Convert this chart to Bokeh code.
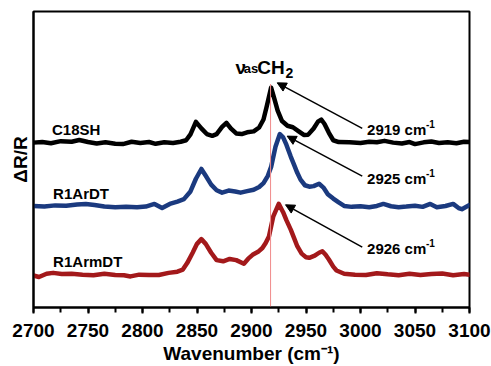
from bokeh.plotting import figure
from bokeh.models import Range1d, SingleIntervalTicker, Arrow, NormalHead, FixedTicker
from bokeh.core.properties import value
from bokeh.embed import file_html
from bokeh.resources import INLINE

FONT = "Liberation Sans"

# ---- data (y in arbitrary offset units) ----
wn_c18sh = [2700, 2708, 2716, 2725, 2735, 2742, 2750, 2758, 2766, 2775, 2782, 2790, 2798, 2806, 2812,
            2820, 2828, 2835, 2840, 2844, 2849, 2854, 2859, 2864, 2868, 2873, 2877, 2881, 2886, 2891,
            2896, 2902, 2907, 2911, 2914, 2918, 2921, 2924, 2928, 2933, 2938, 2943, 2948, 2952, 2957,
            2961, 2964, 2967, 2971, 2975, 2980, 2990, 3000, 3008, 3015, 3022, 3030, 3038, 3045, 3050,
            3058, 3065, 3072, 3080, 3088, 3095, 3100]
dr_c18sh = [55.7, 55.9, 55.5, 56.2, 56.0, 56.6, 55.9, 55.4, 55.8, 55.3, 55.2, 56.0, 55.6, 55.9, 55.3,
            55.8, 55.6, 56.0, 56.5, 58.5, 62.7, 60.5, 58.6, 58.0, 58.6, 61.0, 62.4, 60.5, 58.8, 58.6,
            59.2, 59.5, 60.8, 63.5, 68.0, 74.3, 70.5, 66.5, 63.0, 61.4, 60.9, 59.6, 58.3, 58.4, 60.5,
            62.8, 63.5, 62.0, 59.0, 56.5, 55.9, 55.8, 55.6, 56.0, 55.8, 56.3, 55.7, 55.4, 55.9, 55.2,
            55.8, 56.1, 55.6, 55.8, 55.5, 56.0, 55.9]

wn_r1ardt = [2700, 2710, 2720, 2730, 2740, 2748, 2756, 2765, 2775, 2785, 2795, 2803, 2811, 2818, 2825,
             2832, 2838, 2844, 2849, 2854, 2858, 2863, 2868, 2873, 2879, 2885, 2890, 2896, 2902, 2907,
             2911, 2915, 2918, 2922, 2926, 2929, 2932, 2936, 2939, 2942, 2945, 2949, 2953, 2957, 2962,
             2966, 2970, 2975, 2980, 2985, 2992, 3000, 3008, 3015, 3021, 3028, 3035, 3042, 3050, 3057,
             3064, 3070, 3078, 3085, 3090, 3093, 3100]
dr_r1ardt = [34.3, 34.1, 34.5, 34.4, 34.8, 35.0, 34.6, 34.1, 33.9, 34.0, 33.9, 34.1, 35.0, 33.6, 35.0,
             35.8, 36.6, 39.2, 43.5, 46.8, 44.5, 41.5, 39.6, 38.8, 39.5, 39.2, 38.8, 39.3, 39.8, 40.7,
             42.0, 44.5, 47.5, 54.3, 58.6, 57.5, 55.0, 51.0, 48.3, 45.5, 43.2, 41.3, 40.8, 41.0, 41.8,
             40.5, 38.3, 36.8, 35.5, 34.3, 34.0, 34.2, 33.9, 34.3, 35.0, 34.2, 33.9, 34.1, 34.4, 34.0,
             35.0, 33.9, 34.3, 35.0, 33.6, 33.2, 34.6]

wn_r1armdt = [2700, 2705, 2712, 2718, 2726, 2735, 2745, 2755, 2765, 2775, 2783, 2789, 2797, 2806, 2815,
              2824, 2832, 2837, 2841, 2846, 2850, 2854, 2858, 2863, 2868, 2874, 2880, 2886, 2893, 2897,
              2901, 2906, 2910, 2913, 2916, 2920, 2925, 2929, 2932, 2936, 2939, 2942, 2946, 2950, 2953,
              2958, 2962, 2965, 2968, 2971, 2975, 2978, 2985, 2995, 3005, 3015, 3025, 3035, 3045, 3055,
              3065, 3075, 3085, 3095, 3100]
dr_r1armdt = [10.8, 10.3, 11.4, 11.7, 11.3, 11.4, 11.1, 10.9, 11.4, 11.0, 10.9, 10.5, 11.1, 11.0, 11.0,
              11.7, 12.1, 12.8, 15.0, 18.5, 21.5, 23.1, 21.5, 18.5, 16.0, 15.6, 16.4, 16.0, 14.8, 16.5,
              17.8, 18.8, 20.1, 21.8, 24.0, 30.8, 35.0, 32.2, 29.5, 26.3, 23.5, 20.7, 18.2, 17.0, 16.8,
              17.5, 18.5, 19.0, 17.8, 16.2, 13.8, 12.5, 11.4, 11.1, 11.0, 11.6, 11.2, 10.9, 11.4, 11.0,
              11.3, 11.5, 10.9, 11.3, 11.1]

series_names = ["C18SH", "R1ArDT", "R1ArmDT"]
series_colors = ["#000000", "#1b3a7f", "#a3191b"]
name_x = [2717, 2718, 2718]
name_y = [60.2, 38.6, 15.6]

peak_labels = ["2919 cm", "2925 cm", "2926 cm"]
peak_label_x = [3006, 3006, 3006]
peak_label_y = [60.3, 43.7, 20.1]
arrow_x_start = [3001.6, 3001.6, 3001.6]
arrow_y_start = [60.5, 44.4, 20.4]
arrow_x_end = [2923.6, 2932.7, 2931.2]
arrow_y_end = [75.9, 57.9, 34.7]

ref_line_x = 2917.5
ref_line_top = 75.5

# ---- figure ----
p = figure(width=491, height=366, x_range=Range1d(2700, 3100), y_range=Range1d(0, 100),
           output_backend="svg", toolbar_location=None,
           min_border_left=33, min_border_right=22, min_border_top=11, min_border_bottom=58)
p.background_fill_color = "white"
p.border_fill_color = "white"
p.outline_line_color = "black"
p.outline_line_width = 2
p.grid.visible = False

# x axis
xa = p.xaxis[0]
xa.ticker = SingleIntervalTicker(interval=50, num_minor_ticks=2)
xa.axis_line_width = 2
xa.major_tick_line_width = 2
xa.minor_tick_line_width = 2
xa.major_tick_in = 0
xa.major_tick_out = 6
xa.minor_tick_in = 0
xa.minor_tick_out = 5
xa.major_label_text_font = FONT
xa.major_label_text_font_style = "bold"
xa.major_label_text_font_size = "19px"
xa.major_label_text_color = "black"
xa.major_label_standoff = 10
xa.axis_label = "Wavenumber (cm\u207b\u00b9)"
xa.axis_label_text_font = FONT
xa.axis_label_text_font_style = "bold"
xa.axis_label_text_font_size = "19px"
xa.axis_label_text_color = "black"
xa.axis_label_standoff = 3

# y axis
ya = p.yaxis[0]
ya.ticker = FixedTicker(ticks=[])
ya.axis_line_width = 2
ya.major_tick_in = 0
ya.major_tick_out = 0
ya.minor_tick_in = 0
ya.minor_tick_out = 0
ya.major_label_text_font_size = "0px"
ya.major_label_standoff = 0
ya.axis_label = "\u0394R/R"
ya.axis_label_text_font = FONT
ya.axis_label_text_font_style = "bold"
ya.axis_label_text_font_size = "19px"
ya.axis_label_text_color = "black"
ya.axis_label_standoff = 3

# spectra
for wn, dr, c in [(wn_c18sh, dr_c18sh, series_colors[0]),
                  (wn_r1ardt, dr_r1ardt, series_colors[1]),
                  (wn_r1armdt, dr_r1armdt, series_colors[2])]:
    p.line(wn, dr, line_color=c, line_width=4.5, line_join="round", line_cap="round")

# reference line at the C18SH peak
p.segment(x0=[ref_line_x], y0=[0], x1=[ref_line_x], y1=[ref_line_top],
          line_color="#f08a8a", line_width=1)

# series names
p.text(x=name_x, y=name_y, text=series_names, text_font=value(FONT), text_font_style="bold",
       text_font_size="15px", text_baseline="middle", text_align="left", text_color="black")

# peak labels with superscript -1
p.text(x=peak_label_x, y=peak_label_y, text=peak_labels, text_font=value(FONT),
       text_font_style="bold", text_font_size="15px", text_baseline="middle",
       text_align="left", text_color="black")
p.text(x=peak_label_x, y=[v + 1.6 for v in peak_label_y], text=["-1"] * 3, x_offset=59,
       text_font=value(FONT), text_font_style="bold", text_font_size="10px",
       text_baseline="middle", text_align="left", text_color="black")

# arrows
for xs, ys, xe, ye in zip(arrow_x_start, arrow_y_start, arrow_x_end, arrow_y_end):
    p.add_layout(Arrow(end=NormalHead(size=9, fill_color="black", line_color="black", line_width=1),
                       x_start=xs, y_start=ys, x_end=xe, y_end=ye,
                       line_color="black", line_width=1.5))

# nu_as CH2 label
p.text(x=[2885.3], y=[81.2], text=["\u03bd"], text_font=value(FONT), text_font_style="bold",
       text_font_size="19px", text_baseline="alphabetic", text_align="left", text_color="black")
p.text(x=[2893.0], y=[80.6], text=["as"], text_font=value(FONT), text_font_style="bold",
       text_font_size="13px", text_baseline="alphabetic", text_align="left", text_color="black")
p.text(x=[2905.2], y=[81.2], text=["CH"], text_font=value(FONT), text_font_style="bold",
       text_font_size="19px", text_baseline="alphabetic", text_align="left", text_color="black")
p.text(x=[2931.2], y=[79.3], text=["2"], text_font=value(FONT), text_font_style="bold",
       text_font_size="14px", text_baseline="alphabetic", text_align="left", text_color="black")

open("out.html", "w").write(file_html(p, INLINE))
